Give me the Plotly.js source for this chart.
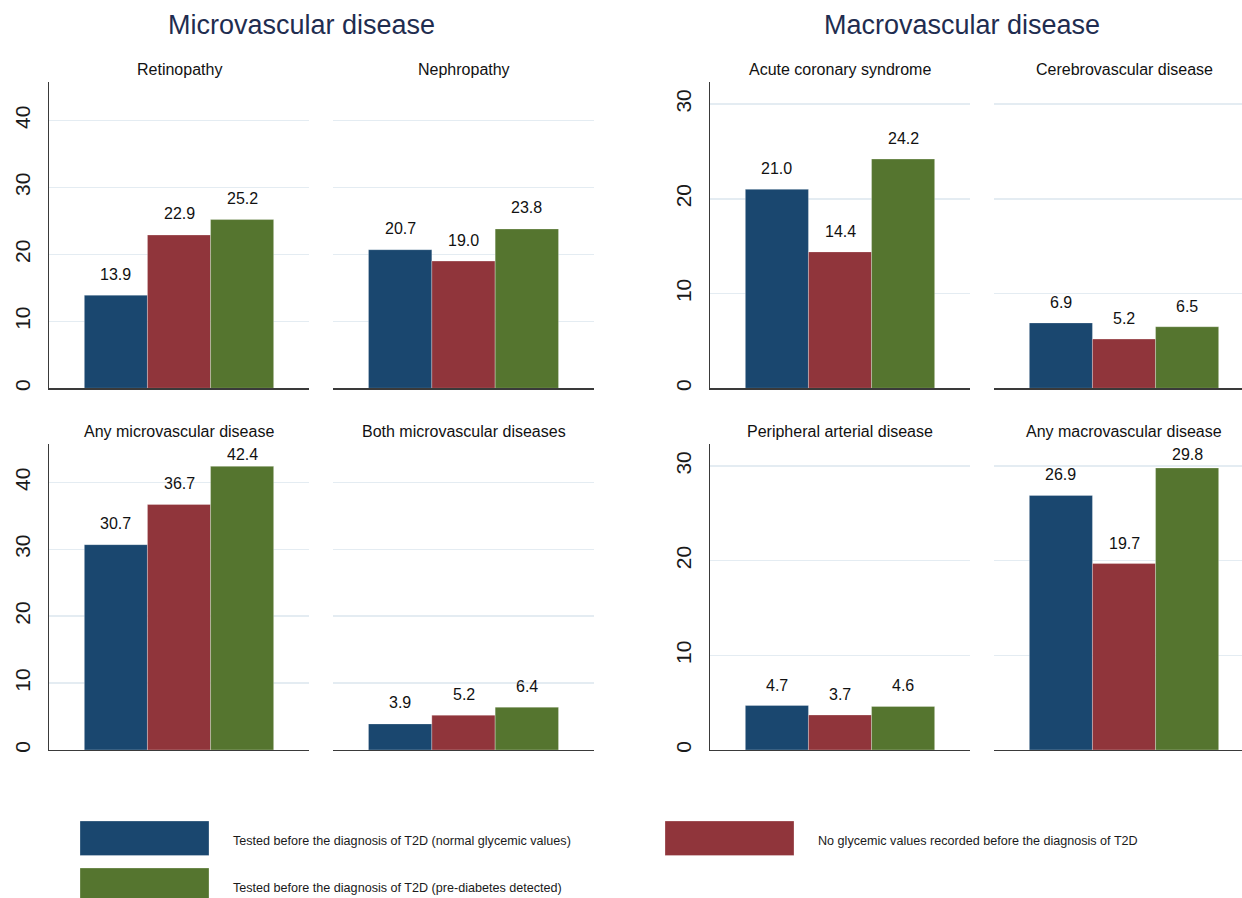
<!DOCTYPE html>
<html><head><meta charset="utf-8">
<script src="https://cdn.plot.ly/plotly-3.0.1.min.js"></script>
<style>html,body{margin:0;padding:0;background:#fff}#chart{width:1242px;height:898px}</style>
</head><body><div id="chart"></div>
<script>
// ---- data ----
const seriesNames = [
  "Tested before the diagnosis of T2D (normal glycemic values)",
  "No glycemic values recorded before the diagnosis of T2D",
  "Tested before the diagnosis of T2D (pre-diabetes detected)"
];
const seriesColors = ["#1a476f", "#90353b", "#55752f"];
const panels = [
  "Retinopathy", "Nephropathy", "Acute coronary syndrome", "Cerebrovascular disease",
  "Any microvascular disease", "Both microvascular diseases", "Peripheral arterial disease", "Any macrovascular disease"
];
const normalValues      = [13.9, 20.7, 21.0, 6.9, 30.7, 3.9, 4.7, 26.9];
const noRecordValues    = [22.9, 19.0, 14.4, 5.2, 36.7, 5.2, 3.7, 19.7];
const prediabetesValues = [25.2, 23.8, 24.2, 6.5, 42.4, 6.4, 4.6, 29.8];
const groupTitles = ["Microvascular disease", "Macrovascular disease"];
const microTicks = [0, 10, 20, 30, 40];
const macroTicks = [0, 10, 20, 30];
const microMax = 45.7;
const macroMax = 32.3;

// ---- layout helpers (pixel geometry of the figure) ----
const W = 1242, H = 898;
const FONT = "Liberation Sans, Arial, Helvetica, sans-serif";
const colPx = [[49, 309], [333, 594], [710, 970], [994, 1254]];
const rowPx = [[82.3, 388.3], [444.3, 750]];
const px = v => v / W;
const py = v => 1 - v / H;
const allValues = [normalValues, noRecordValues, prediabetesValues];

const traces = [];
const layout = {
  width: W, height: H,
  margin: {l: 0, r: 0, t: 0, b: 0},
  paper_bgcolor: "#ffffff", plot_bgcolor: "#ffffff",
  showlegend: false,
  bargap: 0,
  font: {family: FONT, color: "#111111"},
  annotations: [], shapes: []
};

panels.forEach((name, i) => {
  const col = i % 4, row = Math.floor(i / 4);
  const suffix = i === 0 ? "" : String(i + 1);
  const xref = "x" + suffix, yref = "y" + suffix;
  const micro = col < 2;
  const yMax = micro ? microMax : macroMax;
  const vals = allValues.map(arr => arr[i]);
  traces.push({
    type: "bar", x: seriesNames, y: vals, xaxis: xref, yaxis: yref,
    marker: {color: seriesColors, line: {color: "rgba(255,255,255,0.35)", width: 0.8}},
    hoverinfo: "y", cliponaxis: false
  });
  const x0 = colPx[col][0], x1 = Math.min(colPx[col][1], W);
  const fullW = colPx[col][1] - colPx[col][0];
  const span = 4.12;
  const lo = -1.06;
  const hi = lo + span * (x1 - x0) / fullW;
  layout["xaxis" + suffix] = {
    domain: [px(x0), px(x1)], anchor: yref, type: "category",
    range: [lo, hi], showticklabels: false, ticks: "", showgrid: false, zeroline: false,
    showline: true, linecolor: "#3a3a3a", linewidth: 1.3, fixedrange: true
  };
  const showY = col === 0 || col === 2;
  layout["yaxis" + suffix] = {
    domain: [py(rowPx[row][1]), py(rowPx[row][0])], anchor: xref,
    range: [0, yMax],
    tickmode: "array", tickvals: micro ? microTicks : macroTicks,
    ticktext: (micro ? microTicks : macroTicks).map(String),
    showticklabels: showY, tickangle: -90, ticks: "", ticklabelstandoff: 9,
    tickfont: {size: 21, color: "#1a1a1a", family: FONT},
    showgrid: true, gridcolor: "#e4ecf2", gridwidth: 1.5, zeroline: false,
    showline: showY, linecolor: "#3a3a3a", linewidth: 1.2, fixedrange: true
  };
  // panel title
  layout.annotations.push({
    xref: "paper", yref: "paper", x: px((colPx[col][0] + colPx[col][1]) / 2), y: py(rowPx[row][0] - 12.5),
    xanchor: "center", yanchor: "middle", showarrow: false, text: name,
    font: {size: 16, color: "#111111", family: FONT}
  });
  // value labels (kept inside the plot region, as in the original)
  const pxPerUnit = (rowPx[row][1] - rowPx[row][0]) / yMax;
  seriesNames.forEach((s, k) => {
    const room = (yMax - vals[k]) * pxPerUnit - 10.7;
    layout.annotations.push({
      xref: xref, yref: yref, x: s, y: vals[k], yshift: Math.min(micro ? 21 : 20.5, room),
      xanchor: "center", yanchor: "middle", showarrow: false,
      text: vals[k].toFixed(1), font: {size: 16, color: "#111111", family: FONT}
    });
  });
});

// group titles
[301, 962].forEach((cx, g) => {
  layout.annotations.push({
    xref: "paper", yref: "paper", x: px(cx), y: py(25), xanchor: "center", yanchor: "middle",
    showarrow: false, text: groupTitles[g], font: {size: 27, color: "#1f2d50", family: FONT}
  });
});

// legend (large swatches, Stata style)
const legPos = [[80, 821, 230.5, 841], [665, 821, 816, 841], [80, 868, 230.5, 888]];
seriesNames.forEach((s, k) => {
  const [sx, sy, tx, ty] = legPos[k];
  layout.shapes.push({
    type: "rect", xref: "paper", yref: "paper",
    x0: px(sx), x1: px(sx + 129), y0: py(sy + 34.5), y1: py(sy),
    fillcolor: seriesColors[k], line: {color: "rgba(255,255,255,0.35)", width: 0.8}
  });
  layout.annotations.push({
    xref: "paper", yref: "paper", x: px(tx), y: py(ty), xanchor: "left", yanchor: "middle",
    showarrow: false, text: s, font: {size: 12.6, color: "#1a1a1a", family: FONT}
  });
});

Plotly.newPlot("chart", traces, layout, {displayModeBar: false, staticPlot: true});
</script>
</body></html>
